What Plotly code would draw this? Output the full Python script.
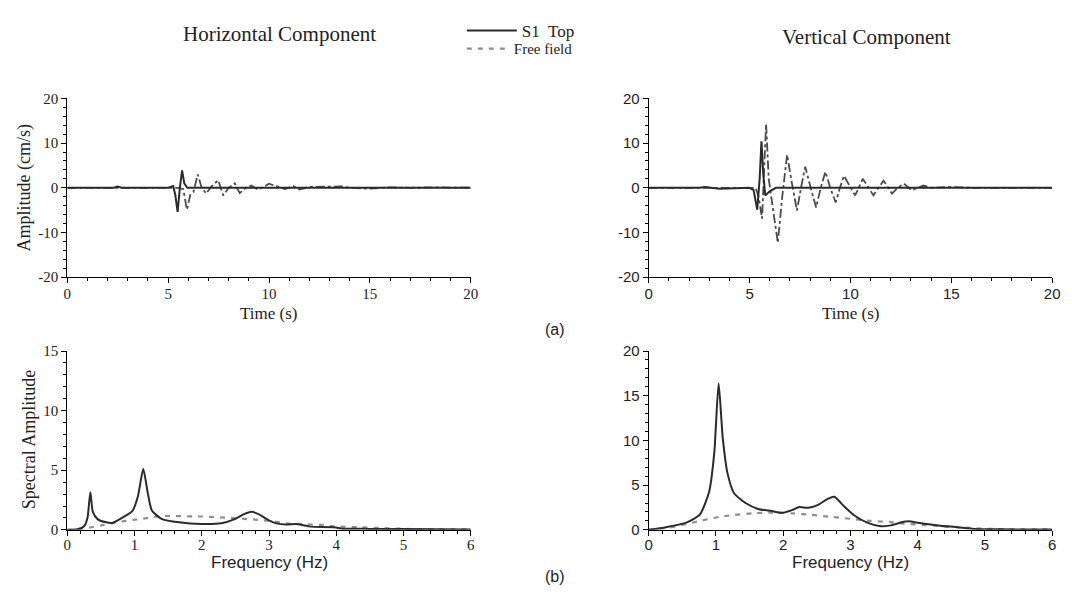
import plotly.graph_objects as go

# ---------------- data ----------------
# Horizontal component, time history (s, cm/s)
h_top_t = [0, 2.3, 2.5, 2.7, 5.0, 5.25, 5.35, 5.47, 5.58, 5.69, 5.8, 5.95, 7, 12, 20]
h_top_a = [0, 0, 0.3, 0, 0, 0.4, -1.5, -5.4, 0, 3.9, 1, 0, 0, 0, 0]
h_ff_t = [0, 5.5, 5.75, 5.93, 6.1, 6.25, 6.47, 6.65, 6.88, 7.15, 7.48, 7.73, 8.0, 8.3,
          8.55, 8.85, 9.12, 9.45, 9.75, 10.0, 10.4, 10.8, 11.2, 11.5, 12.0, 13.0, 13.6,
          14.0, 15.0, 16.0, 17.0, 18, 20]
h_ff_a = [0, 0, -0.3, -4.9, -1.5, -1, 3.0, 0.2, -1.3, 0.3, 1.7, -1.7, 0, 1.0,
          -1.2, 0, 0.5, -0.4, 0.2, 0.9, 0.3, -0.3, 0.4, -0.4, 0.2, 0.2, 0.3,
          0, -0.2, 0.1, 0, 0.1, 0]

# Vertical component, time history
v_top_t = [0, 2.5, 2.8, 3.5, 5.0, 5.2, 5.38, 5.5, 5.59, 5.68, 5.78, 6.0, 6.3, 20]
v_top_a = [0, 0, 0.2, -0.2, 0, -0.5, -4.9, 2, 10.4, 3, -1.7, -0.8, 0, 0]
v_ff_t = [0, 5.3, 5.45, 5.62, 5.72, 5.82, 5.95, 6.1, 6.4, 6.62, 6.86, 7.1, 7.35, 7.55,
          7.76, 8.03, 8.3, 8.53, 8.76, 9.0, 9.27, 9.48, 9.68, 9.95, 10.23, 10.42, 10.61,
          10.88, 11.14, 11.39, 11.64, 11.85, 12.06, 12.35, 12.65, 12.85, 13.04, 13.33,
          13.63, 14.0, 15, 16, 20]
v_ff_a = [0, 0, -2, -6.9, 4, 14.3, 2, -3, -12.3, -2, 7.4, 1, -5.1, 0,
          4.7, 0, -4.4, 0, 3.6, 0, -3.3, 0, 2.7, 0.5, -1.7, 0, 2.0,
          0.2, -1.7, 0, 1.6, 0.2, -1.3, 0, 0.9, 0.2, -0.6, 0,
          0.5, 0, 0.2, 0, 0]

# Horizontal component, spectra (Hz, amplitude)
hs_top_f = [0, 0.15, 0.25, 0.3, 0.343, 0.38, 0.45, 0.58, 0.68, 0.82, 0.97, 1.05, 1.13,
            1.2, 1.26, 1.41, 1.66, 2.0, 2.29, 2.49, 2.62, 2.74, 2.85, 3.0, 3.11, 3.25,
            3.41, 3.5, 3.62, 3.97, 4.1, 4.5, 5, 6]
hs_top_a = [0, 0.05, 0.3, 1.0, 3.15, 1.5, 0.9, 0.63, 0.6, 1.03, 1.6, 2.8, 5.1,
            3.0, 1.6, 0.9, 0.63, 0.49, 0.55, 0.9, 1.3, 1.52, 1.3, 0.8, 0.54, 0.45,
            0.49, 0.4, 0.27, 0.22, 0.1, 0.08, 0.06, 0.03]
hs_ff_f = [0, 0.2, 0.36, 0.55, 0.72, 1.07, 1.24, 1.41, 1.6, 2.0, 2.34, 2.69, 3.0, 3.26,
           3.5, 3.77, 3.97, 4.32, 4.78, 5.2, 6]
hs_ff_a = [0, 0.02, 0.22, 0.41, 0.63, 0.9, 1.03, 1.17, 1.15, 1.12, 1.03, 0.9, 0.76, 0.54,
           0.48, 0.41, 0.3, 0.22, 0.13, 0.06, 0.03]

# Vertical component, spectra
vs_top_f = [0, 0.26, 0.56, 0.76, 0.9, 0.975, 1.04, 1.1, 1.17, 1.27, 1.44, 1.64, 1.83,
            1.98, 2.13, 2.24, 2.37, 2.52, 2.67, 2.76, 2.91, 3.06, 3.25, 3.45, 3.6, 3.79,
            3.87, 4.0, 4.34, 4.59, 4.84, 5.2, 6]
vs_top_a = [0, 0.3, 0.8, 1.7, 4.3, 8.6, 16.4, 10.4, 6.4, 4.1, 3.0, 2.3, 2.1,
            1.9, 2.2, 2.56, 2.46, 2.8, 3.5, 3.7, 2.6, 1.6, 0.8, 0.4, 0.5, 0.9,
            0.95, 0.8, 0.47, 0.3, 0.1, 0.06, 0.03]
vs_ff_f = [0, 0.3, 0.56, 0.76, 1.05, 1.24, 1.54, 1.83, 2.13, 2.42, 2.72, 3.01, 3.3, 3.6,
           3.79, 4.2, 4.59, 5.1, 6]
vs_ff_a = [0, 0.25, 0.65, 1.0, 1.45, 1.63, 1.85, 1.92, 1.85, 1.67, 1.45, 1.23, 1.0, 0.87,
           0.7, 0.5, 0.3, 0.1, 0.05]

# tick labels
time_ticks = [0, 5, 10, 15, 20]
amp_ticks = [-20, -10, 0, 10, 20]
amp_labels = ["-20", "-10", "0", "10", "20"]
freq_ticks = [0, 1, 2, 3, 4, 5, 6]
spec_ticks_h = [0, 5, 10, 15]
spec_ticks_v = [0, 5, 10, 15, 20]

# ---------------- style / geometry ----------------
W, H = 1072, 601


def px(x):
    return x / W


def py(y):
    return 1 - y / H


SERIF = "Liberation Serif"
SANS = "Liberation Sans"
DARK = "#2b2b2b"
FF_DARK = "#4a4a4a"
FF_LIGHT = "#8f8f8f"
FF_DASH = "5px,6px"

fig = go.Figure()

fig.add_trace(go.Scatter(x=h_ff_t, y=h_ff_a, mode="lines", xaxis="x", yaxis="y",
                         line=dict(color=FF_DARK, width=1.8, dash="dashdot"), showlegend=False))
fig.add_trace(go.Scatter(x=h_top_t, y=h_top_a, mode="lines", xaxis="x", yaxis="y",
                         line=dict(color=DARK, width=2), showlegend=False))
fig.add_trace(go.Scatter(x=v_ff_t, y=v_ff_a, mode="lines", xaxis="x2", yaxis="y2",
                         line=dict(color=FF_DARK, width=1.8, dash="dashdot"), showlegend=False))
fig.add_trace(go.Scatter(x=v_top_t, y=v_top_a, mode="lines", xaxis="x2", yaxis="y2",
                         line=dict(color=DARK, width=2), showlegend=False))

fig.add_trace(go.Scatter(x=hs_ff_f, y=hs_ff_a, mode="lines", xaxis="x3", yaxis="y3",
                         line=dict(color=FF_LIGHT, width=2.2, dash=FF_DASH, shape="spline", smoothing=0.6),
                         name="Free field", legend="legend2"))
fig.add_trace(go.Scatter(x=hs_top_f, y=hs_top_a, mode="lines", xaxis="x3", yaxis="y3",
                         line=dict(color=DARK, width=2, shape="spline", smoothing=0.6),
                         name="S1  Top", legend="legend"))
fig.add_trace(go.Scatter(x=vs_ff_f, y=vs_ff_a, mode="lines", xaxis="x4", yaxis="y4",
                         line=dict(color=FF_LIGHT, width=2.2, dash=FF_DASH, shape="spline", smoothing=0.6),
                         showlegend=False))
fig.add_trace(go.Scatter(x=vs_top_f, y=vs_top_a, mode="lines", xaxis="x4", yaxis="y4",
                         line=dict(color=DARK, width=2, shape="spline", smoothing=0.6),
                         showlegend=False))

xd_left = [px(64), px(472)]
xd_right = [px(652), px(1060)]
yd_top = [py(276), py(92)]
yd_bot = [py(536), py(352)]


def axis(domain, rng, tickvals, ticktext, minor_dtick, font, anchor, standoff=0):
    return dict(domain=domain, range=rng, tickmode="array", tickvals=tickvals,
                ticktext=ticktext, anchor=anchor, ticklabelstandoff=standoff,
                showline=True, linecolor="black", linewidth=1.2, mirror=False,
                showgrid=False, zeroline=False, ticks="outside", ticklen=5, tickwidth=1.3,
                tickcolor="black", tickfont=dict(family=font, size=15, color="#222"),
                minor=dict(dtick=minor_dtick, tick0=0, ticks="outside", ticklen=3,
                           tickwidth=1, tickcolor="black", showgrid=False),
                fixedrange=True)


fig.update_layout(
    width=W, height=H, margin=dict(l=0, r=0, t=0, b=0),
    paper_bgcolor="white", plot_bgcolor="rgba(0,0,0,0)",
    xaxis=axis(xd_left, [0, 20], time_ticks, [str(v) for v in time_ticks], 1, SERIF, "y", -2),
    yaxis=axis(yd_top, [-20, 20], amp_ticks, amp_labels, 2, SERIF, "x"),
    xaxis2=axis(xd_right, [0, 20], time_ticks, [str(v) for v in time_ticks], 1, SANS, "y2", -2),
    yaxis2=axis(yd_top, [-20, 20], amp_ticks, amp_labels, 2, SANS, "x2"),
    xaxis3=axis(xd_left, [0, 6], freq_ticks, [str(v) for v in freq_ticks], 0.2, SERIF, "y3", -4),
    yaxis3=axis(yd_bot, [0, 15], spec_ticks_h, [str(v) for v in spec_ticks_h], 1, SERIF, "x3"),
    xaxis4=axis(xd_right, [0, 6], freq_ticks, [str(v) for v in freq_ticks], 0.2, SANS, "y4", -4),
    yaxis4=axis(yd_bot, [0, 20], spec_ticks_v, [str(v) for v in spec_ticks_v], 1, SANS, "x4"),
    legend=dict(x=463 / W, y=1 - 4 / H, xanchor="left", yanchor="top",
                bgcolor="rgba(0,0,0,0)", font=dict(family=SERIF, size=17, color="#222"),
                itemwidth=50),
    legend2=dict(x=463 / W, y=1 - 24 / H, xanchor="left", yanchor="top",
                 bgcolor="rgba(0,0,0,0)", font=dict(family=SERIF, size=15, color="#222"),
                 itemwidth=42),
)

ann = [
    ("Horizontal Component", 279, 26, 0, SERIF, 21),
    ("Vertical Component", 872, 29, 0, SERIF, 21),
    ("Amplitude (cm/s)", 21, 184, -90, SERIF, 18),
    ("Time (s)", 267, 313, 0, SERIF, 17),
    ("Time (s)", 856, 313, 0, SERIF, 17),
    ("Spectral Amplitude", 26, 443, -90, SERIF, 18),
    ("Frequency (Hz)", 268, 570, 0, SANS, 17),
    ("Frequency (Hz)", 856, 570, 0, SANS, 17),
    ("(a)", 557, 330, 0, SANS, 16),
    ("(b)", 557, 584, 0, SANS, 16),
]
for text, ax_, ay_, rot, fam, size in ann:
    fig.add_annotation(text=text, x=px(ax_), y=py(ay_), xref="paper", yref="paper",
                       xanchor="center", yanchor="middle", textangle=rot, showarrow=False,
                       font=dict(family=fam, size=size, color="#222"))

fig.write_html("out.html")
